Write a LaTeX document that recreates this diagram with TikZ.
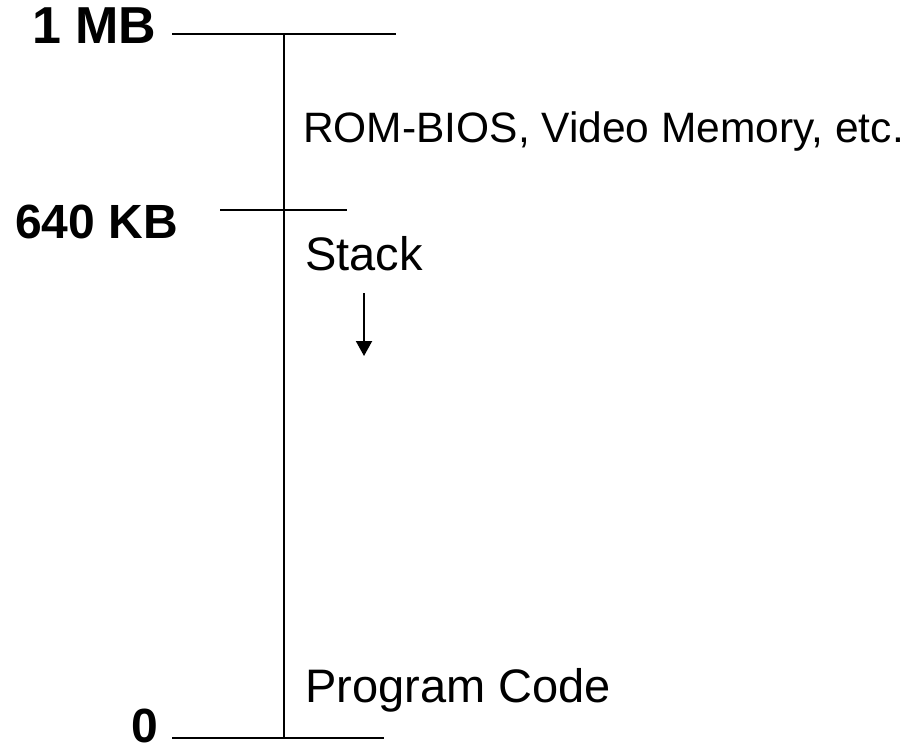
\documentclass[tikz,border=0pt]{standalone}
\usepackage{fontspec}
\setmainfont{Liberation Sans}
\usetikzlibrary{arrows.meta}
\begin{document}
\begin{tikzpicture}[x=1pt,y=-1pt,
  ln/.style={line width=2pt},
  lbl/.style={font=\fontsize{48}{48}\selectfont\bfseries,anchor=base west,inner sep=0pt},
  txt/.style={font=\fontsize{47}{47}\selectfont,anchor=base west,inner sep=0pt}]
\useasboundingbox (0,0) rectangle (909,745);
% ticks
\coordinate (t1) at (172,34);
\coordinate (t2) at (396,34);
\coordinate (m1) at (220,210);
\coordinate (m2) at (347,210);
\coordinate (b1) at (172,738);
\coordinate (b2) at (384,738);
\coordinate (vt) at (284,34);
\coordinate (vb) at (284,738);
\draw[ln] (t1) -- (t2);
\draw[ln] (m1) -- (m2);
\draw[ln] (b1) -- (b2);
\draw[ln] (vt) -- (vb);
% labels
\node[lbl,font=\fontsize{52}{52}\selectfont\bfseries] (mb) at (32,43) {1 MB};
\node[lbl] (kb) at (15,238) {640 KB};
\node[lbl] (zero) at (131,742) {0};
\node[txt,font=\fontsize{42.5}{42.5}\selectfont] (rom) at (303,142) {ROM-BIOS, Video Memory, etc.};
\node[txt] (stack) at (305,270) {Stack};
\node[txt] (code) at (305,702) {Program Code};
% arrow
\coordinate (a1) at (364,293);
\coordinate (a2) at (364,356);
\draw[ln,-{Triangle[length=15pt,width=16pt]}] (a1) -- (a2);
\end{tikzpicture}
\end{document}
